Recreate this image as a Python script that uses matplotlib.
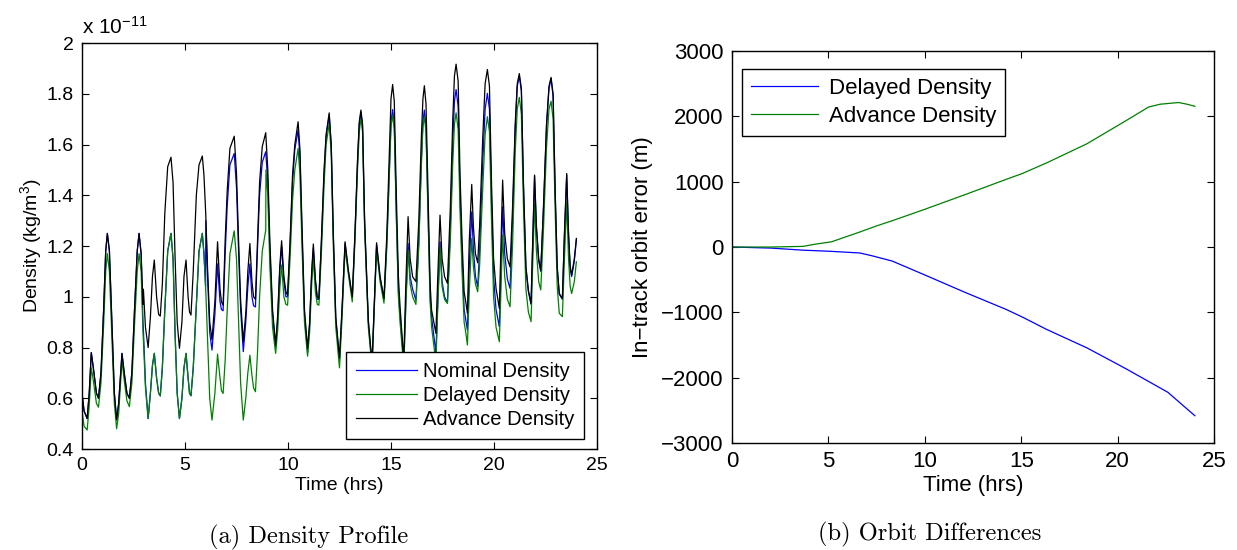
import matplotlib
matplotlib.use('Agg')
import matplotlib.pyplot as plt
from matplotlib.ticker import FuncFormatter

plt.rcParams['font.family'] = ['Liberation Sans', 'DejaVu Sans']
plt.rcParams['mathtext.fontset'] = 'custom'
plt.rcParams['mathtext.rm'] = 'Liberation Sans'
plt.rcParams['mathtext.default'] = 'regular'

# density profile: one time grid, values in units of 1e-11 kg/m^3
t_hrs = [0.0, 0.1, 0.25, 0.35, 0.45, 0.55, 0.7, 0.8, 0.92, 1.05,
         1.15, 1.23, 1.33, 1.45, 1.57, 1.68, 1.78, 1.94, 2.05, 2.18,
         2.30, 2.42, 2.55, 2.68, 2.77, 2.87, 2.96, 2.98, 3.08, 3.21,
         3.32, 3.42, 3.51, 3.62, 3.72, 3.80, 3.90, 4.02, 4.16, 4.32,
         4.42, 4.52, 4.62, 4.73, 4.85, 4.95, 5.05, 5.15, 5.22, 5.29,
         5.40, 5.55, 5.68, 5.84, 5.92, 6.00, 6.01, 6.10, 6.20, 6.31,
         6.45, 6.58, 6.70, 6.77, 6.85, 6.95, 7.05, 7.18, 7.39, 7.50,
         7.60, 7.70, 7.83, 7.95, 8.05, 8.15, 8.25, 8.33, 8.42, 8.52,
         8.62, 8.75, 8.92, 8.93, 9.02, 9.12, 9.25, 9.40, 9.50, 9.60,
         9.69, 9.80, 9.90, 9.98, 10.1, 10.22, 10.33, 10.49, 10.58, 10.68,
         10.80, 10.95, 11.05, 11.15, 11.23, 11.33, 11.42, 11.50, 11.62, 11.75,
         11.85, 12.0, 12.1, 12.2, 12.32, 12.5, 12.62, 12.77, 12.93, 13.12,
         13.25, 13.38, 13.46, 13.54, 13.62, 13.72, 13.9, 14.08, 14.2, 14.3,
         14.47, 14.66, 14.8, 14.93, 15.0, 15.08, 15.16, 15.26, 15.36, 15.44,
         15.62, 15.72, 15.83, 15.93, 16.05, 16.21, 16.35, 16.47, 16.55, 16.62,
         16.70, 16.80, 16.90, 16.97, 17.18, 17.28, 17.38, 17.48, 17.6, 17.74,
         17.88, 18.0, 18.08, 18.16, 18.26, 18.35, 18.45, 18.55, 18.63, 18.71,
         18.80, 18.92, 19.0, 19.1, 19.21, 19.3, 19.45, 19.57, 19.68, 19.78,
         19.88, 19.98, 20.1, 20.26, 20.34, 20.42, 20.52, 20.65, 20.78, 20.90,
         21.03, 21.13, 21.23, 21.33, 21.43, 21.55, 21.67, 21.8, 21.88, 21.97,
         22.06, 22.17, 22.27, 22.40, 22.55, 22.67, 22.77, 22.87, 22.97, 23.07,
         23.17, 23.32, 23.42, 23.53, 23.62, 23.70, 23.77, 23.9, 24.0]

rho_advance = [0.62, 0.55, 0.52, 0.62, 0.78, 0.72, 0.62, 0.60, 0.70, 0.95,
               1.18, 1.25, 1.18, 0.90, 0.62, 0.515, 0.58, 0.777, 0.70, 0.62,
               0.60, 0.70, 0.95, 1.18, 1.25, 1.17, 0.97, 1.03, 0.88, 0.80,
               0.92, 1.08, 1.145, 1.00, 0.93, 0.924, 1.05, 1.33, 1.513, 1.55,
               1.45, 1.15, 0.90, 0.797, 0.90, 1.08, 1.145, 1.00, 0.94, 0.928,
               1.10, 1.40, 1.52, 1.555, 1.48, 1.34, 1.32, 1.10, 0.90, 0.83,
               0.98, 1.217, 1.03, 0.98, 0.967, 1.224, 1.42, 1.585, 1.633, 1.486,
               1.224, 0.987, 0.823, 0.935, 1.10, 1.21, 1.06, 1.00, 0.99, 1.22,
               1.45, 1.592, 1.647, 1.63, 1.50, 1.22, 0.95, 0.81, 0.93, 1.12,
               1.221, 1.08, 1.02, 1.007, 1.22, 1.48, 1.60, 1.69, 1.58, 1.28,
               0.95, 0.797, 0.90, 1.10, 1.208, 1.07, 1.00, 0.994, 1.22, 1.50,
               1.64, 1.725, 1.60, 1.25, 0.92, 0.76, 0.95, 1.217, 1.105, 1.0,
               1.25, 1.55, 1.69, 1.736, 1.68, 1.30, 0.908, 0.74, 1.0, 1.213,
               1.079, 0.994, 1.25, 1.60, 1.78, 1.837, 1.77, 1.40, 1.08, 0.961,
               0.75, 1.05, 1.316, 1.15, 1.079, 1.06, 1.30, 1.62, 1.78, 1.832,
               1.76, 1.40, 1.05, 0.948, 0.856, 1.10, 1.322, 1.15, 1.08, 1.053,
               1.35, 1.70, 1.87, 1.917, 1.85, 1.486, 1.224, 1.02, 0.98, 0.935,
               1.22, 1.443, 1.276, 1.17, 1.134, 1.276, 1.618, 1.84, 1.896, 1.83,
               1.45, 1.15, 1.033, 0.954, 1.20, 1.46, 1.25, 1.15, 1.118, 1.35,
               1.68, 1.84, 1.88, 1.82, 1.45, 1.12, 1.026, 0.974, 1.22, 1.48,
               1.28, 1.15, 1.105, 1.35, 1.68, 1.83, 1.865, 1.80, 1.42, 1.12,
               1.013, 0.994, 1.25, 1.486, 1.25, 1.12, 1.086, 1.15, 1.23]

rho_nominal = [0.62, 0.55, 0.52, 0.62, 0.78, 0.72, 0.62, 0.60, 0.70, 0.95,
               1.18, 1.25, 1.18, 0.90, 0.62, 0.515, 0.58, 0.777, 0.70, 0.62,
               0.60, 0.70, 0.95, 1.18, 1.25, 1.17, 0.90, 0.87, 0.66, 0.52,
               0.62, 0.73, 0.777, 0.68, 0.62, 0.609, 0.72, 0.95, 1.18, 1.25,
               1.15, 0.85, 0.62, 0.52, 0.60, 0.72, 0.777, 0.68, 0.62, 0.61,
               0.72, 0.97, 1.18, 1.25, 1.17, 1.04, 1.30, 1.07, 0.86, 0.79,
               0.93, 1.13, 0.98, 0.95, 0.945, 1.17, 1.36, 1.52, 1.565, 1.43,
               1.18, 0.95, 0.784, 0.90, 1.04, 1.13, 1.00, 0.965, 0.96, 1.19,
               1.40, 1.53, 1.572, 1.56, 1.45, 1.18, 0.93, 0.80, 0.91, 1.10,
               1.20, 1.06, 1.00, 1.0, 1.20, 1.45, 1.58, 1.657, 1.55, 1.25,
               0.93, 0.78, 0.89, 1.09, 1.19, 1.06, 0.99, 0.99, 1.21, 1.48,
               1.63, 1.716, 1.59, 1.24, 0.91, 0.75, 0.94, 1.21, 1.10, 0.995,
               1.24, 1.54, 1.68, 1.725, 1.67, 1.29, 0.90, 0.73, 0.99, 1.205,
               1.075, 0.99, 1.22, 1.53, 1.69, 1.738, 1.68, 1.33, 1.02, 0.93,
               0.74, 0.98, 1.21, 1.08, 1.03, 0.987, 1.22, 1.53, 1.69, 1.736,
               1.67, 1.33, 1.00, 0.92, 0.78, 1.00, 1.217, 1.06, 1.00, 0.977,
               1.27, 1.61, 1.77, 1.817, 1.75, 1.41, 1.16, 0.95, 0.91, 0.869,
               1.12, 1.335, 1.19, 1.08, 1.04, 1.18, 1.52, 1.74, 1.802, 1.74,
               1.38, 1.08, 0.95, 0.882, 1.11, 1.355, 1.17, 1.07, 1.033, 1.30,
               1.66, 1.83, 1.87, 1.81, 1.44, 1.11, 1.02, 0.97, 1.21, 1.475,
               1.27, 1.14, 1.10, 1.34, 1.67, 1.82, 1.86, 1.79, 1.41, 1.11,
               1.01, 0.99, 1.24, 1.48, 1.24, 1.11, 1.08, 1.14, 1.225]

rho_delayed = [0.55, 0.49, 0.475, 0.57, 0.72, 0.67, 0.58, 0.565, 0.66, 0.89,
               1.10, 1.17, 1.10, 0.84, 0.58, 0.48, 0.54, 0.75, 0.67, 0.59,
               0.567, 0.66, 0.89, 1.10, 1.17, 1.10, 0.86, 0.83, 0.64, 0.52,
               0.62, 0.73, 0.777, 0.68, 0.62, 0.61, 0.72, 0.95, 1.18, 1.25,
               1.15, 0.85, 0.62, 0.52, 0.60, 0.72, 0.777, 0.68, 0.62, 0.61,
               0.72, 0.97, 1.18, 1.25, 1.17, 1.04, 1.02, 0.82, 0.60, 0.514,
               0.62, 0.774, 0.68, 0.63, 0.619, 0.75, 0.95, 1.17, 1.26, 1.15,
               0.90, 0.66, 0.514, 0.60, 0.70, 0.77, 0.69, 0.64, 0.626, 0.78,
               1.00, 1.18, 1.263, 1.50, 1.40, 1.12, 0.88, 0.777, 0.87, 1.03,
               1.125, 1.00, 0.97, 0.967, 1.15, 1.38, 1.50, 1.585, 1.48, 1.20,
               0.90, 0.766, 0.86, 1.05, 1.151, 1.02, 0.97, 0.967, 1.17, 1.44,
               1.60, 1.683, 1.56, 1.20, 0.88, 0.72, 0.91, 1.19, 1.09, 0.98,
               1.22, 1.51, 1.65, 1.703, 1.65, 1.27, 0.88, 0.72, 0.98, 1.19,
               1.06, 0.975, 1.20, 1.51, 1.67, 1.716, 1.66, 1.31, 1.00, 0.90,
               0.72, 0.96, 1.184, 1.05, 1.00, 0.97, 1.20, 1.51, 1.67, 1.71,
               1.65, 1.31, 0.98, 0.882, 0.74, 0.98, 1.197, 1.04, 0.99, 0.974,
               1.22, 1.53, 1.68, 1.725, 1.66, 1.34, 1.10, 0.90, 0.86, 0.81,
               1.02, 1.23, 1.12, 1.05, 1.02, 1.12, 1.42, 1.64, 1.71, 1.65,
               1.30, 1.00, 0.88, 0.823, 1.03, 1.243, 1.08, 0.99, 0.961, 1.20,
               1.57, 1.74, 1.786, 1.72, 1.36, 1.03, 0.94, 0.902, 1.13, 1.368,
               1.18, 1.06, 1.027, 1.26, 1.59, 1.74, 1.771, 1.70, 1.34, 1.04,
               0.935, 0.922, 1.15, 1.375, 1.15, 1.04, 1.013, 1.06, 1.138]

# in-track orbit error (m)
t_err_del = [0, 2.0, 3.68, 5.0, 6.63, 7.26, 8.3, 10.0, 12.1, 14.2, 15.05, 16.3, 18.4,
             20.0, 20.5, 22.6, 24.0]
err_del = [0, -16, -48, -64, -91, -134, -214, -428, -696, -953, -1071, -1259, -1543,
           -1795, -1875, -2223, -2582]
t_err_adv = [0, 2.0, 3.68, 4.3, 5.16, 5.79, 6.63, 7.47, 8.3, 10.0, 12.1, 14.2, 15.05,
             16.3, 18.4, 20.0, 20.7, 21.6, 22.2, 23.16, 23.6, 24.0]
err_adv = [0, 0, 10, 43, 80, 145, 230, 321, 402, 578, 804, 1034, 1125, 1286, 1580,
           1859, 1982, 2143, 2186, 2212, 2186, 2154]

blue = (0, 0, 1)
green = (0, 0.5, 0)


def style_axes(ax, size):
    ax.tick_params(direction='in', top=True, right=True, length=5, width=0.8,
                   labelsize=size, pad=6)
    for s in ax.spines.values():
        s.set_linewidth(1.0)
    ax.xaxis.set_major_formatter(FuncFormatter(lambda v, p: '%g' % v))
    ax.yaxis.set_major_formatter(FuncFormatter(lambda v, p: ('%g' % v).replace('-', '\u2212')))


fig = plt.figure(figsize=(12.37, 5.5), dpi=100)

# (a) density profile
ax1 = fig.add_axes([0.0663, 0.1836, 0.4163, 0.738])
ax1.plot(t_hrs, rho_nominal, color=blue, lw=0.9, label='Nominal Density')
ax1.plot(t_hrs, rho_delayed, color=green, lw=0.9, label='Delayed Density')
ax1.plot(t_hrs, rho_advance, color='black', lw=0.9, label='Advance Density')
ax1.set_xlim(0, 25)
ax1.set_ylim(0.4, 2.0)
ax1.set_xticks([0, 5, 10, 15, 20, 25])
ax1.set_yticks([0.4, 0.6, 0.8, 1.0, 1.2, 1.4, 1.6, 1.8, 2.0])
style_axes(ax1, 14)
ax1.set_xlabel('Time (hrs)', fontsize=14, labelpad=2)
ax1.set_ylabel('Density (kg/m$^3$)', fontsize=14, labelpad=2)
ax1.text(0.0, 1.012, 'x 10$^{-11}$', transform=ax1.transAxes, fontsize=15,
         ha='left', va='bottom')
leg1 = ax1.legend(loc='lower right', bbox_to_anchor=(0.975, 0.025),
                  fontsize=14.5, handlelength=3.0,
                  handletextpad=0.3, borderpad=0.5, labelspacing=0.25,
                  fancybox=False, framealpha=1, edgecolor='black',
                  borderaxespad=0)
leg1.get_frame().set_linewidth(1.0)

# (b) orbit differences
ax2 = fig.add_axes([0.5918, 0.1945, 0.3897, 0.7127])
ax2.plot(t_err_del, err_del, color=blue, lw=0.9, label='Delayed Density')
ax2.plot(t_err_adv, err_adv, color=green, lw=0.9, label='Advance Density')
ax2.set_xlim(0, 25)
ax2.set_ylim(-3000, 3000)
ax2.set_xticks([0, 5, 10, 15, 20, 25])
ax2.set_yticks(range(-3000, 3001, 1000))
style_axes(ax2, 16)
ax2.set_xlabel('Time (hrs)', fontsize=16, labelpad=2)
ax2.set_ylabel('In\u2212track orbit error (m)', fontsize=16, labelpad=6)
leg2 = ax2.legend(loc='upper left', bbox_to_anchor=(0.021, 0.954),
                  fontsize=16, handlelength=3.0,
                  handletextpad=0.5, borderpad=0.4, labelspacing=0.3,
                  fancybox=False, framealpha=1, edgecolor='black',
                  borderaxespad=0)
leg2.get_frame().set_linewidth(1.0)

# captions
fig.text(309 / 1237, 1 - 537 / 550, '(a) Density Profile', family='cmr10',
         fontsize=17.6, ha='center', va='center')
fig.text(930 / 1237, 1 - 534 / 550, '(b) Orbit Differences', family='cmr10',
         fontsize=17.6, ha='center', va='center')

fig.savefig('out.png', dpi=100)
